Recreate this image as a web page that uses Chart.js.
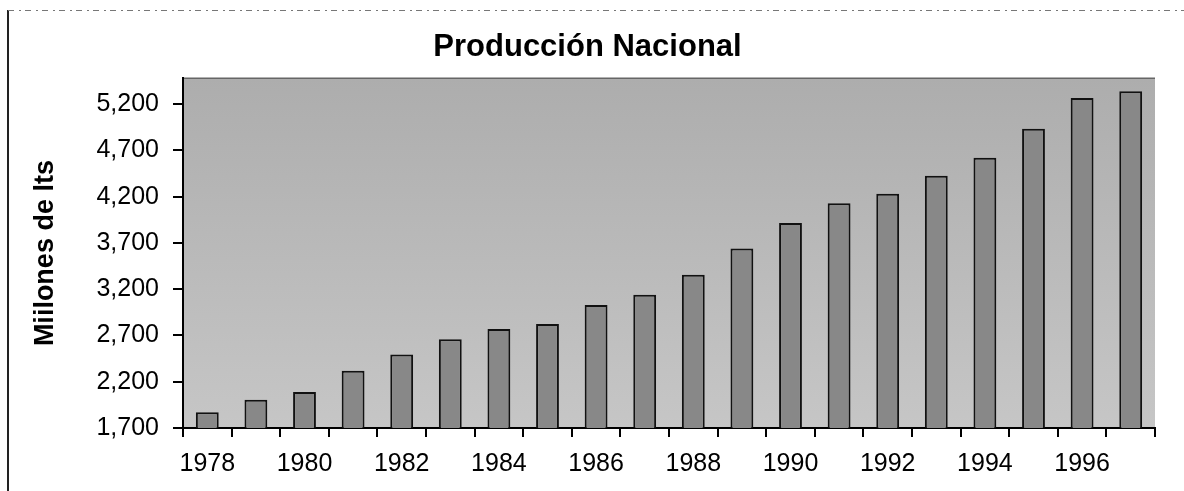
<!DOCTYPE html>
<html>
<head>
<meta charset="utf-8">
<script src="https://cdn.jsdelivr.net/npm/chart.js@4/dist/chart.umd.min.js"></script>
<style>
  html, body { margin: 0; padding: 0; background: #fff; }
  #wrap { width: 1184px; height: 491px; }
</style>
</head>
<body>
<div id="wrap"><canvas id="prodChart" width="1184" height="491"></canvas></div>
<script>
// Data
const years = ['1978', '1979', '1980', '1981', '1982', '1983', '1984', '1985', '1986', '1987',
               '1988', '1989', '1990', '1991', '1992', '1993', '1994', '1995', '1996', '1997'];
const production = [1870, 2005, 2090, 2320, 2495, 2660, 2770, 2825, 3030, 3140,
                    3355, 3640, 3915, 4130, 4230, 4425, 4620, 4935, 5265, 5340];
const yTicks = [1700, 2200, 2700, 3200, 3700, 4200, 4700, 5200];

const fontFamily = '"Liberation Sans", Arial, sans-serif';

// Plot area background and the page frame
const backdrop = {
    id: 'backdrop',
    beforeDraw(chart) {
        const ctx = chart.ctx;
        const a = chart.chartArea;
        ctx.save();
        // left frame line and scanned top edge
        ctx.strokeStyle = '#222';
        ctx.lineWidth = 2;
        ctx.beginPath();
        ctx.moveTo(8, 10);
        ctx.lineTo(8, 491);
        ctx.stroke();
        ctx.strokeStyle = '#777';
        ctx.lineWidth = 1;
        ctx.setLineDash([6, 5, 2, 4]);
        ctx.beginPath();
        ctx.moveTo(8, 10.5);
        ctx.lineTo(1184, 10.5);
        ctx.stroke();
        ctx.setLineDash([]);
        // gray plot background
        const g = ctx.createLinearGradient(0, a.top, 0, a.bottom);
        g.addColorStop(0, '#adadad');
        g.addColorStop(1, '#c6c6c6');
        ctx.fillStyle = g;
        ctx.fillRect(a.left, a.top, a.right - a.left, a.bottom - a.top);
        ctx.strokeStyle = '#666';
        ctx.lineWidth = 1.5;
        ctx.beginPath();
        ctx.moveTo(a.left, a.top);
        ctx.lineTo(a.right, a.top);
        ctx.stroke();
        ctx.restore();
    }
};

const ctx = document.getElementById('prodChart').getContext('2d');
new Chart(ctx, {
    type: 'bar',
    data: {
        labels: years,
        datasets: [{
            label: 'Producción',
            data: production,
            backgroundColor: '#888888',
            borderColor: '#111',
            borderWidth: 2,
            borderSkipped: 'bottom',
            categoryPercentage: 1,
            barPercentage: 0.47
        }]
    },
    options: {
        responsive: false,
        animation: false,
        layout: { padding: { left: 20, right: 29, top: 0, bottom: 0 } },
        scales: {
            x: {
                grid: { drawOnChartArea: false, tickLength: 9, color: '#000', lineWidth: 2, offset: true },
                border: { color: '#000', width: 2 },
                ticks: {
                    autoSkip: false,
                    maxRotation: 0,
                    padding: 12,
                    color: '#000',
                    font: { family: fontFamily, size: 25 },
                    callback: function (value, index) {
                        return index % 2 === 0 ? this.getLabelForValue(value) : '';
                    }
                },
                afterFit: scale => { scale.height = 63; }
            },
            y: {
                min: 1700,
                max: 5480,
                grid: { drawOnChartArea: false, tickLength: 10, color: '#000', lineWidth: 2 },
                border: { color: '#000', width: 2 },
                afterBuildTicks: scale => { scale.ticks = yTicks.map(v => ({ value: v })); },
                ticks: {
                    padding: 14,
                    color: '#000',
                    font: { family: fontFamily, size: 25 },
                    callback: v => v.toLocaleString('en-US')
                },
                title: {
                    display: true,
                    text: 'Miilones de lts',
                    color: '#000',
                    font: { family: fontFamily, size: 27, weight: 'bold' },
                    padding: { top: 9, bottom: 0 }
                },
                afterFit: scale => { scale.width = 163; }
            }
        },
        plugins: {
            legend: { display: false },
            tooltip: { enabled: false },
            title: {
                display: true,
                text: 'Producción Nacional',
                color: '#000',
                font: { family: fontFamily, size: 31, weight: 'bold' },
                padding: { top: 29, bottom: 12 }
            }
        }
    },
    plugins: [backdrop]
});
</script>
</body>
</html>
